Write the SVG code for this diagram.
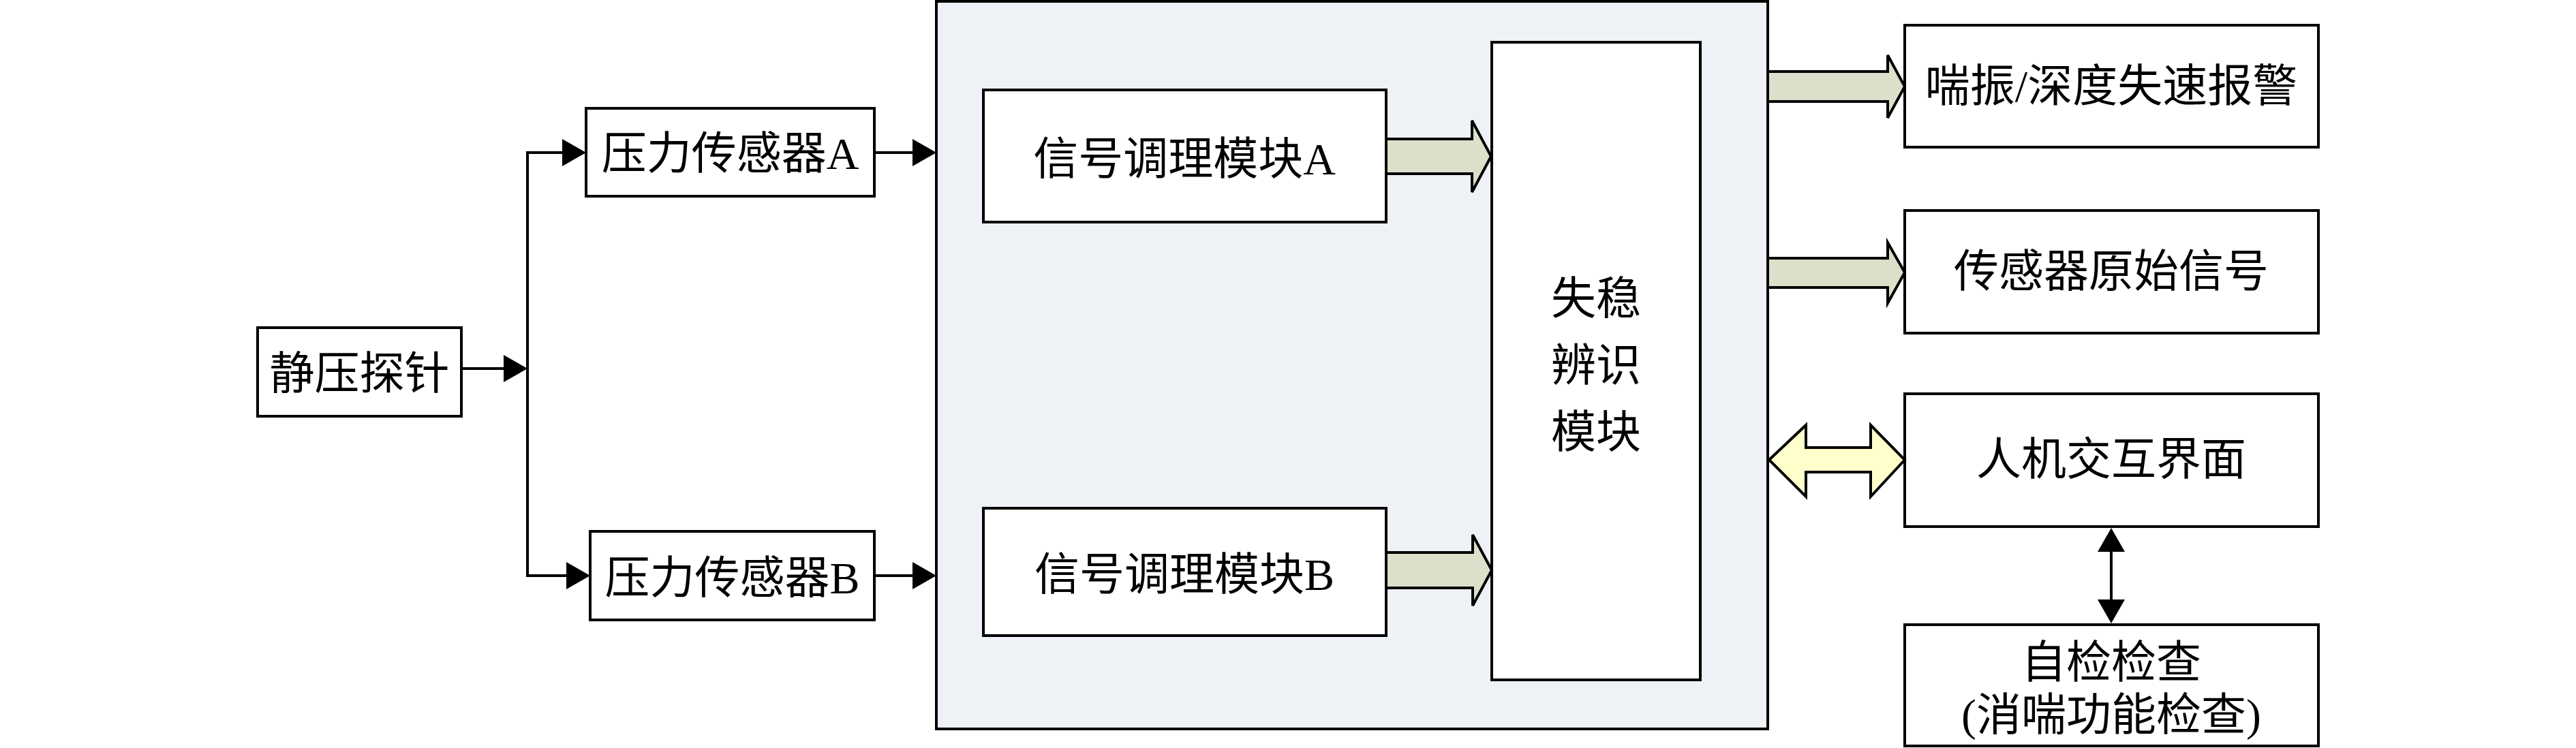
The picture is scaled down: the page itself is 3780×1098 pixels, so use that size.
<svg xmlns="http://www.w3.org/2000/svg" width="3780" height="1098" viewBox="0 0 3780 1098">
<style>
.box{fill:#FFFFFF;stroke:#000000;stroke-width:4}
.ln{fill:none;stroke:#000000;stroke-width:4}
.fat{fill:#DCE0CB;stroke:#000000;stroke-width:4;stroke-linejoin:miter}
.dbl{fill:#FFFFCC;stroke:#000000;stroke-width:4}
text{font-family:"Liberation Serif","Noto Sans CJK SC",serif;font-size:66px;text-anchor:middle;fill:#000000}
</style>
<defs>
<marker id="ah" markerUnits="userSpaceOnUse" markerWidth="36" markerHeight="40" refX="0" refY="20" orient="auto-start-reverse" viewBox="0 0 36 40">
<path d="M0,0 L35,20 L0,40 Z" fill="#000000"/>
</marker>
</defs>
<rect width="3780" height="1098" fill="#FFFFFF"/>
<g id="container">
<rect x="1374" y="2" width="1220" height="1068" fill="#EEF1F6" stroke="#000000" stroke-width="4"/>
</g>
<g id="probe"><rect class="box" x="378" y="481" width="299" height="130"/><text x="527.5" y="571">静压探针</text></g>
<g id="sensorA"><rect class="box" x="860" y="159" width="423" height="129"/><text x="1071.5" y="248">压力传感器A</text></g>
<g id="sensorB"><rect class="box" x="866" y="780" width="417" height="130"/><text x="1074.5" y="871">压力传感器B</text></g>
<g id="condA"><rect class="box" x="1443" y="132" width="591" height="194"/><text x="1738" y="256">信号调理模块A</text></g>
<g id="condB"><rect class="box" x="1443" y="746" width="591" height="187"/><text x="1738" y="866">信号调理模块B</text></g>
<g id="identify"><rect class="box" x="2189" y="62" width="306" height="936"/><text x="2342" y="461">失稳</text><text x="2342" y="559">辨识</text><text x="2342" y="657">模块</text></g>
<g id="alarm"><rect class="box" x="2795" y="37" width="607" height="179"/><text x="3098" y="149">喘振/深度失速报警</text></g>
<g id="raw"><rect class="box" x="2795" y="309" width="607" height="180"/><text x="3098" y="421">传感器原始信号</text></g>
<g id="hmi"><rect class="box" x="2795" y="578" width="607" height="195"/><text x="3098" y="697">人机交互界面</text></g>
<g id="selftest"><rect class="box" x="2795" y="917" width="607" height="178"/><text x="3098" y="995">自检检查</text><text x="3098" y="1072">(消喘功能检查)</text></g>
<g id="connectors">
<line class="ln" x1="677" y1="541" x2="739" y2="541" marker-end="url(#ah)"/>
<line class="ln" x1="774" y1="222" x2="774" y2="847"/>
<line class="ln" x1="772" y1="224" x2="825" y2="224" marker-end="url(#ah)"/>
<line class="ln" x1="772" y1="845" x2="831" y2="845" marker-end="url(#ah)"/>
<line class="ln" x1="1283" y1="224" x2="1339" y2="224" marker-end="url(#ah)"/>
<line class="ln" x1="1283" y1="845" x2="1339" y2="845" marker-end="url(#ah)"/>
<line class="ln" x1="3098" y1="810" x2="3098" y2="880" marker-start="url(#ah)" marker-end="url(#ah)"/>
<polygon class="fat" points="2034,204 2160,204 2160,177 2188,229.5 2160,282 2160,255 2034,255"/>
<polygon class="fat" points="2034,811 2161,811 2161,785 2189,837 2161,889 2161,863 2034,863"/>
<polygon class="fat" points="2594,105 2770,105 2770,81 2795,127 2770,173 2770,149 2594,149"/>
<polygon class="fat" points="2594,379 2770,379 2770,356 2795,400 2770,445 2770,422 2594,422"/>
<polygon class="dbl" points="2596,675 2650,624 2650,657 2745,657 2745,624 2795,675 2745,729 2745,693 2650,693 2650,729"/>
</g>
</svg>
